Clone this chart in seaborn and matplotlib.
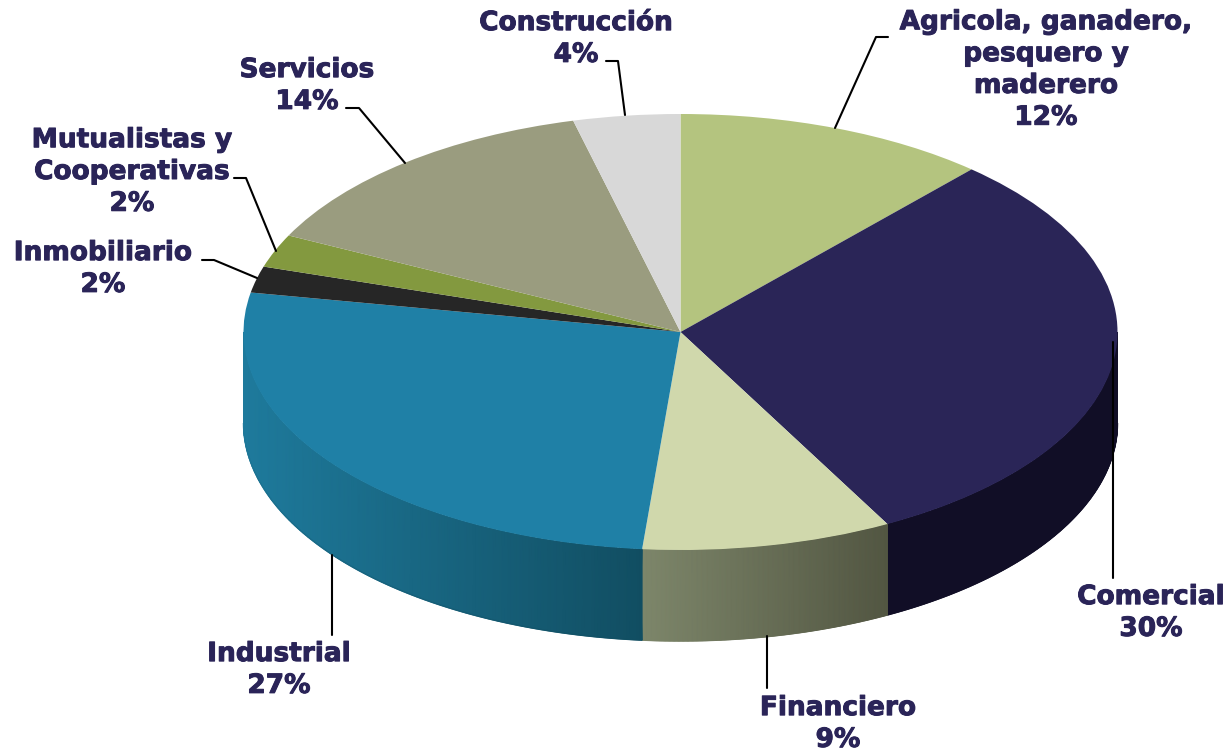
import numpy as np
import seaborn as sns
import matplotlib
matplotlib.use("Agg")
import matplotlib.pyplot as plt
import matplotlib.patheffects as pe

sectors = ["Agricola, ganadero,\npesquero y\nmaderero", "Comercial", "Financiero", "Industrial",
           "Inmobiliario", "Mutualistas y\nCooperativas", "Servicios", "Construcción"]
percent_labels = [12, 30, 9, 27, 2, 2, 14, 4]
# slice sizes as drawn, a little off the rounded labels
shares = [11.6, 30.55, 9.25, 26.5, 1.95, 2.45, 13.75, 3.95]
top_colors = ["#b4c47f", "#2a2557", "#d0d8ac", "#1f80a6", "#262626", "#83993f", "#9a9c7f", "#d8d8d8"]
# wall shade at left and right end of each visible slice
wall_colors = {
    1: ("#110e26", "#110e26"),
    2: ("#7d866a", "#525642"),
    3: ("#1e7a9c", "#114e62"),
}

# layout in pixels of the 1230x751 picture
W, H = 1230, 751
CX, CY, RX, RY, DEPTH = 680.5, 332, 437, 218, 91


def to_data(x, y):
    return (x - CX) / RX, (CY - y) / RY


sns.set_theme(style="white")
plt.rcParams["font.family"] = ["DejaVu Sans"]

fig = plt.figure(figsize=(W / 100, H / 100), dpi=100)
ax = fig.add_axes([0, 0, 1, 1])

ax.pie(shares, colors=top_colors, startangle=90, counterclock=False, radius=1,
       wedgeprops={"linewidth": 0})
ax.set_aspect("auto")
ax.set_xlim(*[to_data(v, 0)[0] for v in (0, W)])
ax.set_ylim(to_data(0, H)[1], to_data(0, 0)[1])
ax.axis("off")

# side wall, smooth shading along x for each visible slice
edges = np.cumsum([0] + shares) / sum(shares) * 360
depth = DEPTH / RY
for i, (left_c, right_c) in wall_colors.items():
    a0, a1 = max(edges[i], 90), min(edges[i + 1], 270)
    angles = np.radians(np.linspace(a0, a1, 200))
    xs, ys = np.sin(angles), np.cos(angles)
    X = np.vstack([xs, xs])
    Y = np.vstack([ys, ys - depth])
    cmap = sns.blend_palette([left_c, right_c], as_cmap=True)
    ax.pcolormesh(X, Y, X, cmap=cmap, shading="gouraud", zorder=0)
    # soften the stair steps along the lower rim
    shades = sns.blend_palette([right_c, left_c], n_colors=len(xs))
    for k in range(0, len(xs) - 1):
        ax.plot(xs[k:k + 2], ys[k:k + 2] - depth, color=shades[k], linewidth=1.0,
                solid_capstyle="butt", zorder=0)

# leader lines
leaders = [
    [(888, 37), (876, 37), (835, 128)],
    [(1113, 342), (1113, 578)],
    [(767, 636), (767, 688)],
    [(332, 555), (332, 635)],
    [(202, 260), (214, 260), (257, 278)],
    [(234, 178), (246, 178), (276, 251)],
    [(346, 108), (359, 108), (405, 163)],
    [(606, 61), (618, 61), (625, 115)],
]
for pts in leaders:
    data_pts = np.array([to_data(*p) for p in pts])
    ax.plot(data_pts[:, 0], data_pts[:, 1], color="black", linewidth=1.5, zorder=3)

# label centres
label_pos = [(1046, 70), (1151, 613), (838, 724), (279, 670), (103, 269), (132, 172), (307, 86), (576, 39)]
for name, pct, pos in zip(sectors, percent_labels, label_pos):
    x, y = to_data(*pos)
    ax.text(x, y, f"{name}\n{pct}%", ha="center", va="center", fontsize=19, fontweight="bold",
            color="#2a2458", linespacing=1.29, zorder=4,
            path_effects=[pe.withStroke(linewidth=0.7, foreground="#2a2458")])

fig.savefig("out.png", dpi=100)
